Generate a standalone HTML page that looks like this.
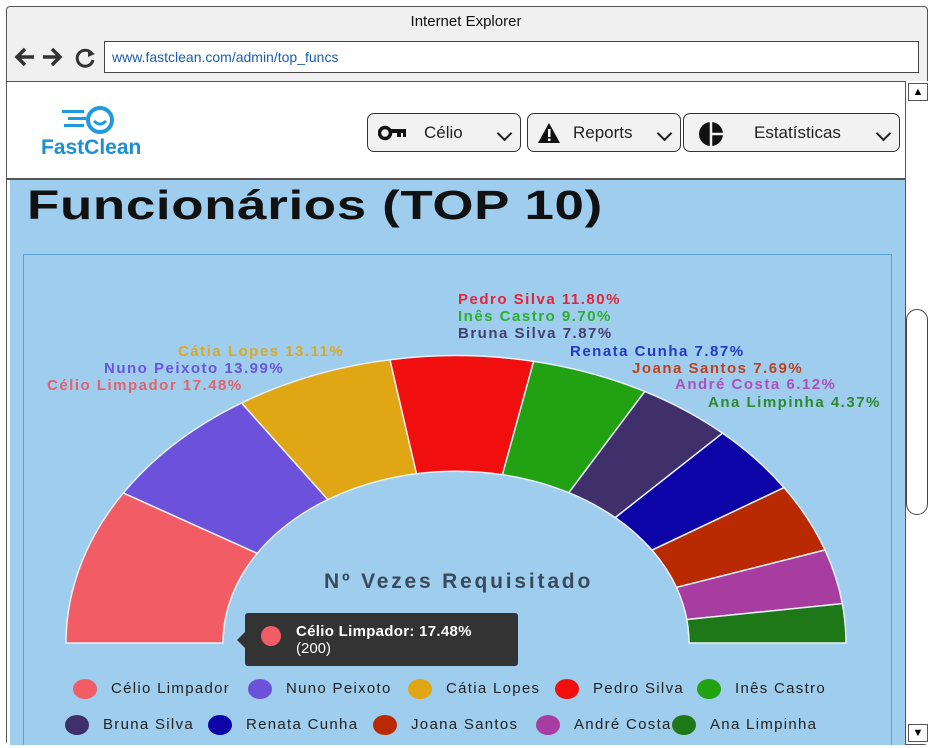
<!DOCTYPE html>
<html><head><meta charset="utf-8"><style>
body{margin:0;width:932px;height:748px;overflow:hidden;background:#fff;font-family:"Liberation Sans",sans-serif;position:relative}
.abs{position:absolute}
.dd{position:absolute;top:113px;height:39px;border:1.5px solid #333;border-radius:7px;background:#f2f2f2;box-sizing:border-box;font-size:17px;color:#222;line-height:37px}
.chev{position:absolute;right:10px;top:14px;width:9px;height:9px;border-right:2.5px solid #222;border-bottom:2.5px solid #222;transform:rotate(45deg)}
</style></head><body>
<div class="abs" style="left:6px;top:6px;width:922px;height:739px;border:1.5px solid #555;border-radius:4px;box-sizing:border-box;background:#f0f0f0"></div>
<div class="abs" style="left:0;top:13px;width:932px;text-align:center;font-size:15px;color:#111">Internet Explorer</div>
<svg class="abs" style="left:14px;top:45px" width="86" height="24">
 <path d="M3 12 H20 M11 4 L3 12 L11 20" stroke="#333" stroke-width="3.5" fill="none"/>
 <path d="M29 12 H46 M38 4 L46 12 L38 20" stroke="#333" stroke-width="3.5" fill="none"/>
 <path d="M78 9 A8 8 0 1 0 79 15" stroke="#333" stroke-width="3" fill="none"/><path d="M74 4 L81 9 L74 12 Z" fill="#333"/>
</svg>
<div class="abs" style="left:104px;top:41px;width:815px;height:32px;border:1.5px solid #444;box-sizing:border-box;background:#fff;font-size:14px;color:#1a5fb4;line-height:30px;padding-left:7px">www.fastclean.com/admin/top_funcs</div>
<div class="abs" style="left:7px;top:81px;width:898px;height:663px;background:#fff;border-top:1.5px solid #555"></div>
<div class="abs" style="left:905px;top:81px;width:24px;height:663px;background:#fff;border-left:1px solid #555">
 <div style="position:absolute;left:2px;top:2px;width:18px;height:16px;border:1px solid #555;text-align:center;font-size:11px;line-height:16px">▲</div>
 <div style="position:absolute;left:0;top:228px;width:22px;height:206px;border:1.5px solid #444;border-radius:11px;box-sizing:border-box"></div>
 <div style="position:absolute;left:2px;bottom:2px;width:18px;height:16px;border:1px solid #555;text-align:center;font-size:11px;line-height:16px">▼</div>
</div>
<div class="abs" style="left:41px;top:136px;font-size:21px;font-weight:bold;color:#1e8fd6">FastClean</div>
<svg class="abs" style="left:60px;top:104px" width="56" height="32"><circle cx="40" cy="16" r="12" fill="none" stroke="#1e9be0" stroke-width="4"/><path d="M34 17 q6 6 12 0" stroke="#1e9be0" stroke-width="3" fill="none"/><rect x="2" y="6" width="22" height="3" fill="#1e9be0"/><rect x="8" y="13" width="18" height="3" fill="#1e9be0"/><rect x="4" y="20" width="20" height="3" fill="#1e9be0"/></svg>
<div class="dd" style="left:367px;width:154px"><svg style="position:absolute;left:10px;top:11px" width="28" height="16"><circle cx="7" cy="8" r="5.5" fill="none" stroke="#111" stroke-width="3.5"/><path d="M12 6 H27 V12 M21 8 V12" stroke="#111" stroke-width="4" fill="none"/></svg><span style="position:absolute;left:56px">Célio</span><span class="chev"></span></div>
<div class="dd" style="left:527px;width:154px"><svg style="position:absolute;left:9px;top:8px" width="24" height="22"><path d="M12 1 L23 21 H1 Z" fill="#111"/><rect x="11" y="7" width="2.5" height="8" fill="#fff"/><rect x="11" y="16.5" width="2.5" height="2.5" fill="#fff"/></svg><span style="position:absolute;left:45px">Reports</span><span class="chev"></span></div>
<div class="dd" style="left:683px;width:217px"><svg style="position:absolute;left:14px;top:7px" width="26" height="26"><circle cx="13" cy="13" r="12" fill="#111"/><path d="M13 0 V26 M13 13 L26 13" stroke="#f2f2f2" stroke-width="2.5"/></svg><span style="position:absolute;left:70px">Estatísticas</span><span class="chev"></span></div>
<div class="abs" style="left:7px;top:178px;width:898px;height:1.5px;background:#555"></div>
<div class="abs" style="left:10px;top:180px;width:895px;height:565px;background:#9ecdee"></div>
<div class="abs" style="left:27px;top:182px;font-size:41px;font-weight:bold;color:#111;transform:scaleX(1.29);transform-origin:left top;letter-spacing:0.5px">Funcionários (TOP 10)</div>
<div class="abs" style="left:23px;top:254px;width:869px;height:491px;border:1px solid #5aa0d0;border-bottom:none;box-sizing:border-box"></div>
<svg class="abs" style="left:0;top:0" width="932" height="748" id="chart"></svg>
<script>
const names=["Célio Limpador","Nuno Peixoto","Cátia Lopes","Pedro Silva","Inês Castro","Bruna Silva","Renata Cunha","Joana Santos","André Costa","Ana Limpinha"];
const counts=[200,160,150,135,111,90,90,88,70,50];
const colors=["#f25c64","#6c52db","#e0a613","#f00e0e","#22a112","#3f2f6b","#0d04a8","#b92a02","#a73da0","#1f7818"];
const labelColors=["#e8606a","#6b55dd","#d9a826","#e4243a","#2bb02b","#45406e","#2438c8","#c0401e","#b050b8","#2e8a2e"];
const svg=document.getElementById('chart'),NS="http://www.w3.org/2000/svg";
const cx=456,cy=643,R=390,r=233,ky=0.737;
const total=counts.reduce((a,b)=>a+b,0);
function pt(f,rad){const t=Math.PI*(1-f);return [cx+rad*Math.cos(t),cy-rad*Math.sin(t)*ky];}
let acc=0;
const lab=[[47,390],[104,373],[178,356],[458,304],[458,321],[458,338],[570,356],[632,373],[675,389],[708,407]];
counts.forEach((v,i)=>{
 const f0=acc/total,f1=(acc+v)/total;acc+=v;
 const a=pt(f0,R),b=pt(f1,R),c=pt(f1,r),d=pt(f0,r);
 const p=document.createElementNS(NS,'path');
 p.setAttribute('d',`M${a[0]},${a[1]} A${R},${R*ky} 0 0 1 ${b[0]},${b[1]} L${c[0]},${c[1]} A${r},${r*ky} 0 0 0 ${d[0]},${d[1]} Z`);
 p.setAttribute('fill',colors[i]);p.setAttribute('stroke','#e8f0f8');p.setAttribute('stroke-width','1.5');
 
 
 svg.appendChild(p);
 const t=document.createElementNS(NS,'text');
 t.setAttribute('x',lab[i][0]);t.setAttribute('y',lab[i][1]);
 t.setAttribute('fill',labelColors[i]);t.setAttribute('font-size','15');t.setAttribute('font-weight','bold');
 t.setAttribute('letter-spacing','1.5');
 t.setAttribute('font-family','Liberation Sans, sans-serif');
 t.textContent=names[i]+' '+(v/total*100).toFixed(2)+'%';
 
 
 svg.appendChild(t);
});
</script>
<div class="abs" style="left:324px;top:570px;font-size:21px;font-weight:bold;color:#3a4a5a;letter-spacing:2.8px">Nº Vezes Requisitado</div>
<div class="abs" style="left:245px;top:613px;width:273px;height:53px;background:#333;border-radius:3px;color:#fff;font-size:15px">
 <div style="position:absolute;left:-8px;top:19px;border:8px solid transparent;border-left:none;border-right-color:#333"></div>
 <div style="position:absolute;left:16px;top:13px;width:20px;height:20px;border-radius:50%;background:#f25c64"></div>
 <div style="position:absolute;left:51px;top:10px;font-weight:bold;letter-spacing:0.3px">Célio Limpador: 17.48%</div>
 <div style="position:absolute;left:51px;top:27px">(200)</div>
</div>
<div id="legend"></div>
<script>
const lx=[[85,689],[260,689],[420,689],[567,689],[709,689],[77,725],[220,725],[385,725],[548,725],[684,725]];
const lg=document.getElementById('legend');
names.forEach((n,i)=>{
 const e=document.createElement('div');
 
 
 e.style.cssText=`position:absolute;left:${lx[i][0]-12}px;top:${lx[i][1]-11}px;font-size:15px;color:#222;white-space:nowrap;line-height:22px;letter-spacing:1.3px`;
 e.innerHTML=`<span style="display:inline-block;width:24px;height:20px;border-radius:50%;background:${colors[i]};vertical-align:middle;margin-right:14px"></span>${n}`;
 lg.appendChild(e);
});
</script>
</body></html>
